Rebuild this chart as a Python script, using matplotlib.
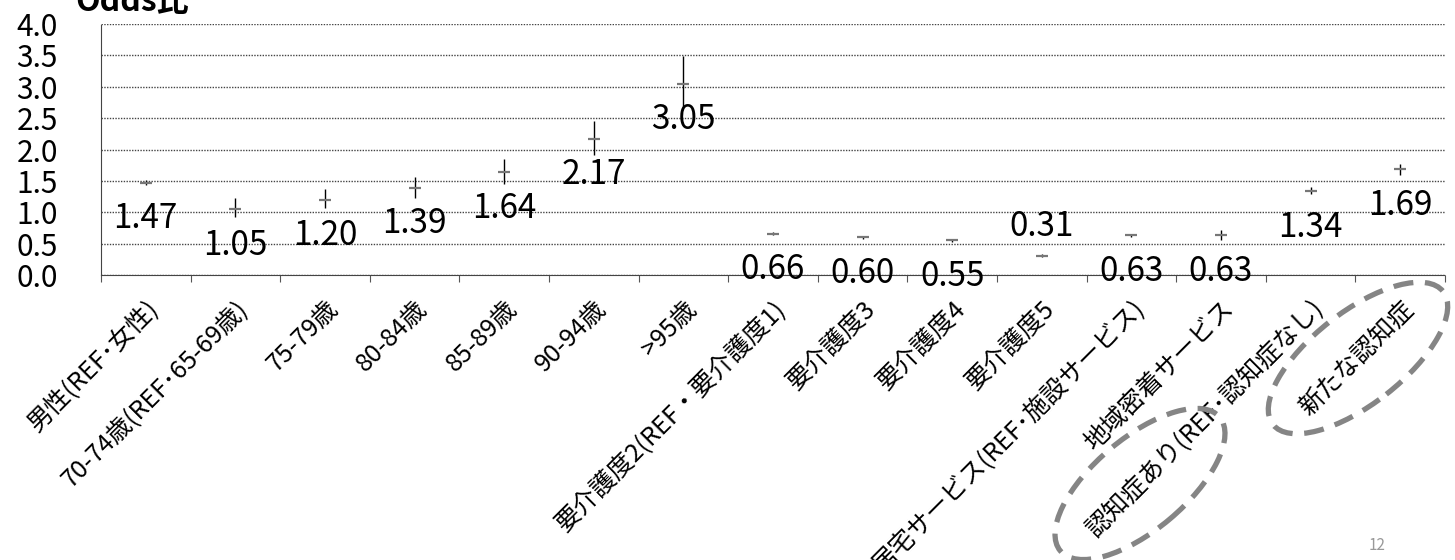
import numpy as np
import matplotlib
matplotlib.use("Agg")
import matplotlib.pyplot as plt
from matplotlib.patches import Ellipse
from matplotlib.transforms import IdentityTransform

plt.rcParams['font.family'] = ['Noto Sans CJK JP', 'DejaVu Sans']

categories = [
    "男性(REF･女性)", "70-74歳(REF･65-69歳)", "75-79歳", "80-84歳", "85-89歳",
    "90-94歳", ">95歳", "要介護度2(REF・要介護度1)", "要介護度3", "要介護度4",
    "要介護度5", "居宅サービス(REF･施設サービス)", "地域密着サービス",
    "認知症あり(REF･認知症なし)", "新たな認知症",
]
odds = [1.47, 1.05, 1.20, 1.39, 1.64, 2.17, 3.05, 0.66, 0.60, 0.55, 0.31, 0.63, 0.63, 1.34, 1.69]
ci_low = [1.43, 0.92, 1.07, 1.23, 1.45, 1.91, 2.66, 0.64, 0.58, 0.53, 0.29, 0.61, 0.56, 1.29, 1.59]
ci_high = [1.51, 1.22, 1.37, 1.56, 1.85, 2.45, 3.49, 0.68, 0.62, 0.57, 0.33, 0.65, 0.72, 1.40, 1.77]
y_ticks = [0.0, 0.5, 1.0, 1.5, 2.0, 2.5, 3.0, 3.5, 4.0]

W, H = 1455, 560
fig = plt.figure(figsize=(W / 100, H / 100), dpi=100)
ax = fig.add_axes([101 / W, 1 - 275 / H, 1344 / W, 251 / H])

x = np.arange(len(categories))
odds = np.array(odds)
yerr = np.array([odds - np.array(ci_low), np.array(ci_high) - odds])

ax.errorbar(x, odds, yerr=yerr, fmt='none', ecolor='black', elinewidth=1, capsize=0, zorder=3)
ax.plot(x, odds, linestyle='none', marker='_', markersize=9, mew=1.6, color='#777777', zorder=4)

# data labels (below the point, except where it would fall off the axis)
for xi, v in zip(x, odds):
    if v < 0.4:
        off, va = 8, 'bottom'
    else:
        off, va = -26, 'center'
    ax.annotate(f"{v:.2f}", (xi, v), xytext=(0, off), textcoords='offset points',
                ha='center', va=va, fontsize=24, color='black', zorder=5)

ax.set_xlim(-0.5, len(categories) - 0.5)
ax.set_ylim(0, 4)
ax.set_yticks(y_ticks)
ax.set_yticklabels([f"{t:.1f}" for t in y_ticks], fontsize=21.5)
ax.tick_params(axis='y', length=0, pad=31)

ax.set_xticks(x)
ax.set_xticklabels(categories, rotation=45, ha='right', rotation_mode='anchor', fontsize=18)
ax.tick_params(axis='x', which='major', length=0, pad=15)
ax.set_xticks(np.arange(-0.5, len(categories)), minor=True)
ax.tick_params(axis='x', which='minor', length=5, width=0.8, color='#555555', direction='out')

ax.grid(axis='y', linestyle=(0, (1, 1)), color='#444444', linewidth=1)
ax.set_axisbelow(True)
for s in ['top', 'right']:
    ax.spines[s].set_visible(False)
ax.spines['left'].set_linestyle((0, (1, 1)))
ax.spines['left'].set_color('#444444')
ax.spines['bottom'].set_linestyle((0, (1, 1)))
ax.spines['bottom'].set_color('#444444')

# title, partly cut at the top like the slide
fig.text(75 / W, 1 - 11 / H, "Odds比", fontsize=23, fontweight='bold', ha='left', va='baseline')

# dashed highlight ellipses around the dementia labels
for cx, cy, w, h, ang in [(1140, 484, 208, 92, 40), (1358, 358, 216, 92, 38)]:
    e = Ellipse((cx, H - cy), w, h, angle=ang, transform=IdentityTransform(),
                fill=False, edgecolor='#858585', linewidth=3.8, linestyle=(0, (3.8, 2.2)))
    fig.patches.append(e)

fig.text(1377 / W, 1 - 546 / H, "12", fontsize=11, color='#999999', ha='center', va='center')

fig.savefig("out.png", dpi=100)
